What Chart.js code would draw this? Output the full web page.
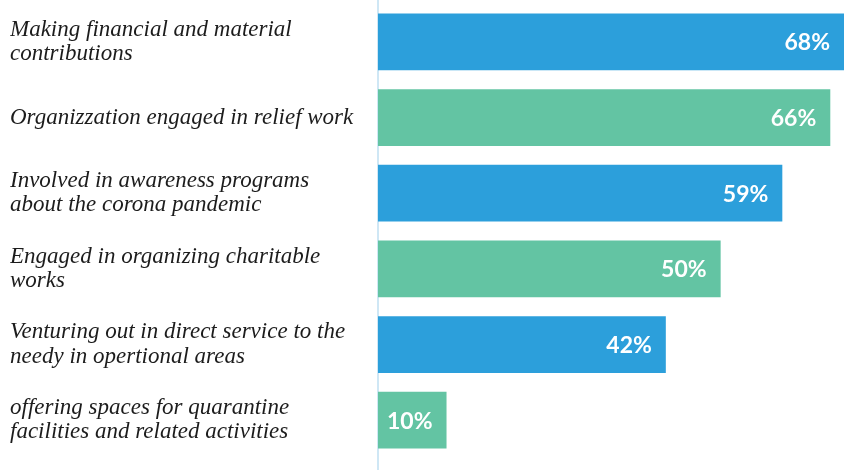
<!DOCTYPE html>
<html>
<head>
<meta charset="utf-8">
<script src="https://cdn.jsdelivr.net/npm/chart.js@4/dist/chart.umd.min.js"></script>
<style>
  html, body { margin: 0; padding: 0; background: #fff; }
  #wrap { width: 844px; height: 470px; position: relative; }
</style>
</head>
<body>
<div id="wrap"><canvas id="chart"></canvas></div>
<script>
'use strict';

// ── Data ──
const CATEGORIES = [
  ['Making financial and material', 'contributions'],
  ['Organizzation engaged in relief work'],
  ['Involved in awareness programs', 'about the corona pandemic'],
  ['Engaged in organizing charitable', 'works'],
  ['Venturing out in direct service to the', 'needy in opertional areas'],
  ['offering spaces for quarantine', 'facilities and related activities'],
];
const VALUES = [68, 66, 59, 50, 42, 10];
const BAR_COLORS = ['#2c9fdb', '#63c4a3', '#2c9fdb', '#63c4a3', '#2c9fdb', '#63c4a3'];

const AXIS_X = 378;

// ── Plugins ──
// vertical baseline at zero, running the full height of the canvas
const zeroLine = {
  id: 'zeroLine',
  beforeDatasetsDraw(chart) {
    const x = chart.scales.x.getPixelForValue(0);
    const ctx = chart.ctx;
    ctx.save();
    ctx.strokeStyle = '#cfe7f5';
    ctx.lineWidth = 2;
    ctx.beginPath();
    ctx.moveTo(x, 0);
    ctx.lineTo(x, chart.height);
    ctx.stroke();
    ctx.restore();
  },
};

// percentage text inside the end of each bar
const valueLabels = {
  id: 'valueLabels',
  afterDatasetsDraw(chart) {
    const ctx = chart.ctx;
    const meta = chart.getDatasetMeta(0);
    ctx.save();
    ctx.fillStyle = '#ffffff';
    ctx.font = 'bold 23px Lato, sans-serif';
    ctx.textAlign = 'right';
    ctx.textBaseline = 'middle';
    meta.data.forEach((bar, i) => {
      ctx.fillText(VALUES[i] + '%', bar.x - 14, bar.y + 1);
    });
    ctx.restore();
  },
};

// ── Chart ──
new Chart(document.getElementById('chart'), {
  type: 'bar',
  data: {
    labels: CATEGORIES,
    datasets: [{
      data: VALUES,
      backgroundColor: BAR_COLORS,
      borderWidth: 0,
      barPercentage: 0.75,
      categoryPercentage: 1,
    }],
  },
  options: {
    indexAxis: 'y',
    animation: false,
    responsive: true,
    maintainAspectRatio: false,
    layout: { padding: { left: 10, right: 0, top: 4, bottom: 12 } },
    plugins: { legend: { display: false }, tooltip: { enabled: false } },
    scales: {
      x: {
        display: false,
        min: 0,
        max: 68,
      },
      y: {
        grid: { display: false, drawTicks: false },
        border: { display: false },
        afterFit(scale) {
          scale.width = AXIS_X - 10;
          // labels sit centred on the bands, no extra room needed above/below
          scale.paddingTop = 0;
          scale.paddingBottom = 0;
        },
        ticks: {
          crossAlign: 'far',
          padding: 0,
          color: '#1c1c1c',
          font: { family: '"Liberation Serif", serif', style: 'italic', size: 23, lineHeight: 1.05 },
        },
      },
    },
  },
  plugins: [zeroLine, valueLabels],
});
</script>
</body>
</html>
